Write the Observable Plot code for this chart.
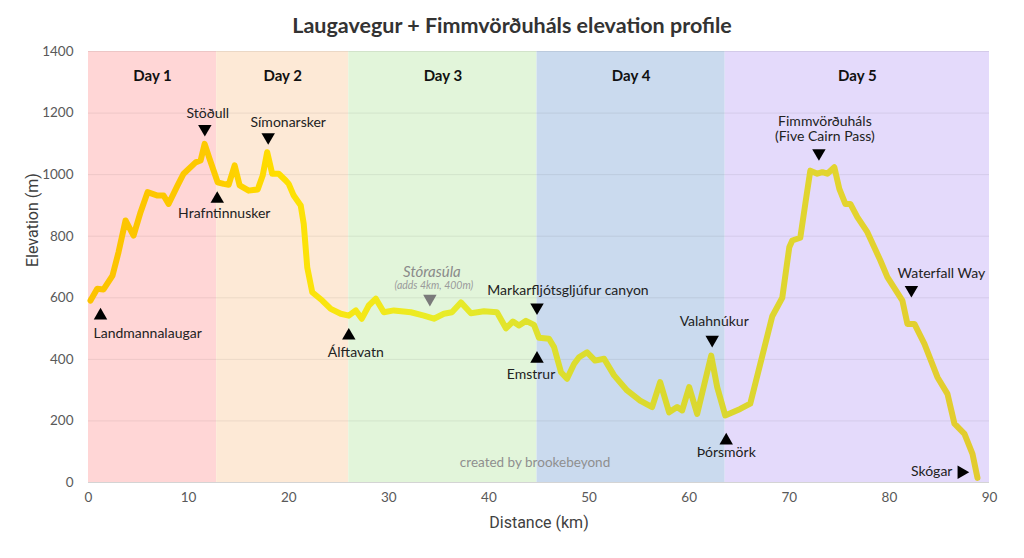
<!DOCTYPE html>
<html>
<head>
<meta charset="utf-8">
<script src="https://cdn.jsdelivr.net/npm/d3@7"></script>
<script src="https://cdn.jsdelivr.net/npm/@observablehq/plot@0.6"></script>
<style>
  body { margin: 0; background: #fff; }
  #title {
    font: bold 21.5px Lato, "Open Sans", sans-serif; color: #333;
    height: 44px; line-height: 50px; text-align: center;
  }
</style>
</head>
<body>
<div id="title">Laugavegur + Fimmvörðuháls elevation profile</div>
<div id="chart"></div>
<script>
// Trail profile: distance along the route (km) and elevation (m)
const distanceKm = [
  0.2, 0.87, 1.5, 2.4, 3.0, 3.7, 4.5, 5.2, 5.9, 6.9, 7.5, 8.0, 8.9, 9.5, 10.7, 11.2, 11.6, 12.1, 12.9,
  13.5, 14.0, 14.6, 15.1, 16.0, 16.9, 17.4, 17.85, 18.35, 19.0, 19.7, 20.0, 20.5, 21.2, 21.5, 21.85,
  22.35, 23.35, 24.2, 25.2, 26.0, 26.7, 27.3, 28.0, 28.7, 29.5, 30.5, 32.2, 33.5, 34.5, 35.5, 36.3,
  37.2, 38.2, 39.5, 40.8, 41.7, 42.4, 43.0, 43.7, 44.5, 45.0, 46.0, 46.5, 47.2, 47.8, 48.5, 49.0,
  49.8, 50.6, 51.5, 52.5, 53.8, 55.1, 56.3, 57.1, 58.0, 58.8, 59.3, 60.0, 60.8, 62.2, 62.8, 63.6,
  65.1, 66.1, 67.1, 68.3, 69.3, 70.0, 70.3, 71.1, 71.6, 72.1, 72.8, 73.3, 73.8, 74.5, 75.0, 75.6,
  76.1, 76.8, 77.8, 79.1, 79.8, 81.3, 81.8, 82.5, 83.5, 84.8, 85.8, 86.5, 87.5, 88.3, 88.8
];
const elevationM = [
  591, 629, 627, 672, 748, 851, 802, 878, 943, 932, 932, 905, 965, 1003, 1040, 1046, 1100, 1051, 975,
  970, 967, 1030, 965, 948, 952, 997, 1073, 1003, 1003, 981, 970, 932, 900, 840, 699,
  618, 591, 564, 548, 542, 559, 532, 575, 597, 553, 559, 553, 542, 532, 548, 553,
  585, 550, 556, 553, 501, 523, 510, 525, 512, 470, 467, 440, 358, 337, 385, 407,
  423, 396, 402, 348, 299, 266, 245, 326, 228, 245, 234, 310, 223, 412, 310, 218,
  239, 256, 385, 540, 600, 764, 786, 795, 905, 1013, 1003, 1008, 1003, 1024, 954, 905,
  905, 862, 813, 721, 667, 591, 515, 515, 450, 342, 288, 191, 158, 93, 15
];

// Daily stages
const dayNames = ["Day 1", "Day 2", "Day 3", "Day 4", "Day 5"];
const dayStartKm = [0, 12.8, 26.0, 44.8, 63.6];
const dayEndKm = [12.8, 26.0, 44.8, 63.6, 90];
const dayColors = ["#ffd6d6", "#fde9d6", "#e2f5da", "#cadaee", "#e4dafb"];

// Axis ticks
const xTicks = [0, 10, 20, 30, 40, 50, 60, 70, 80, 90];
const yTicks = [0, 200, 400, 600, 800, 1000, 1200, 1400];

// Landmarks along the trail
const placeNames = ["Landmannalaugar", "Stöðull", "Hrafntinnusker", "Símonarsker", "Álftavatn",
  "Markarfljótsgljúfur canyon", "Emstrur", "Valahnúkur", "Þórsmörk",
  "Fimmvörðuháls\n(Five Cairn Pass)", "Waterfall Way", "Skógar"];
const placeKm = [1.2, 11.62, 12.86, 17.95, 26.0, 44.8, 44.8, 62.3, 63.7, 72.96, 82.2, 87.2];
const placeElev = [542, 1149, 921, 1122, 477, 569, 402, 464, 136, 1070, 626, 33];
const placePointer = ["up", "down", "up", "down", "up", "down", "up", "down", "up", "down", "down", "right"];

// Optional side trip
const detourName = "Stórasúla";
const detourNote = "(adds 4km, 400m)";
const detourKm = 34.1;
const detourElev = 597;

const profile = distanceKm.map((km, i) => ({km, elev: elevationM[i]}));
const dayBands = dayNames.map((name, i) => ({name, start: dayStartKm[i], end: dayEndKm[i]}));
const places = placeNames.map((name, i) => ({name, km: placeKm[i], elev: placeElev[i], pointer: placePointer[i]}));

// Label placement around each marker: [dx, dy, textAnchor]
const labelNudge = {
  "Landmannalaugar": [-7, 18, "start"],
  "Stöðull": [3, -16, "middle"],
  "Hrafntinnusker": [7, 14, "middle"],
  "Símonarsker": [20, -15, "middle"],
  "Álftavatn": [7, 17, "middle"],
  "Markarfljótsgljúfur canyon": [31, -17, "middle"],
  "Emstrur": [-6, 15, "middle"],
  "Valahnúkur": [2, -18, "middle"],
  "Þórsmörk": [0, 12, "middle"],
  "Fimmvörðuháls\n(Five Cairn Pass)": [6, -24, "middle"],
  "Waterfall Way": [30, -17, "middle"],
  "Skógar": [-9, -1, "end"]
};

const labelFont = "Lato, 'Open Sans', sans-serif";
const rotation = {up: 0, down: 180, right: 90};

const placeLabels = places.map(p => {
  const [dx, dy, textAnchor] = labelNudge[p.name];
  return Plot.text([p], {
    x: "km", y: "elev", text: "name", dx, dy, textAnchor,
    fontSize: 14, fill: "#222", fontFamily: labelFont, lineHeight: 1.08
  });
});

const chart = Plot.plot({
  width: 1024,
  height: 514,
  marginLeft: 88,
  marginRight: 35,
  marginTop: 7,
  marginBottom: 76,
  style: {fontFamily: labelFont, fontSize: "13.5px", color: "#595959", background: "transparent", overflow: "visible"},
  x: {domain: [0, 90], ticks: xTicks, tickSize: 0, tickPadding: 10, label: null},
  y: {domain: [0, 1400], ticks: yTicks, tickSize: 0, tickPadding: 15, label: null, tickFormat: d => String(d)},
  color: {domain: dayNames, range: dayColors},
  marks: [
    Plot.rect(dayBands, {x1: "start", x2: "end", y1: 0, y2: 1400, fill: "name"}),
    Plot.ruleY(yTicks, {stroke: "#000", strokeOpacity: 0.07}),
    Plot.ruleY([0], {stroke: "#000", strokeOpacity: 0.1}),
    Plot.text(dayBands, {x: d => (d.start + d.end) / 2, frameAnchor: "top", dy: 19, text: "name",
      fontSize: 15, fontWeight: "bold", fill: "#111", fontFamily: labelFont}),
    Plot.line(profile, {x: "km", y: "elev", stroke: "url(#trailGradient)", strokeWidth: 6,
      strokeLinejoin: "round", strokeLinecap: "round"}),
    Plot.dot(places, {x: "km", y: "elev", symbol: "triangle", r: 5, fill: "#000", stroke: null,
      rotate: d => rotation[d.pointer]}),
    ...placeLabels,
    Plot.dot([{km: detourKm, elev: detourElev}], {x: "km", y: "elev", symbol: "triangle", r: 5,
      fill: "#7a7a7a", stroke: null, rotate: 180}),
    Plot.text([{km: detourKm, elev: detourElev}], {x: "km", y: "elev", text: () => detourName,
      dx: 2, dy: -27, fontSize: 15, fontStyle: "italic", fill: "#8a8a8a", fontFamily: labelFont}),
    Plot.text([{km: detourKm, elev: detourElev}], {x: "km", y: "elev", text: () => detourNote,
      dx: 4, dy: -13, fontSize: 10.5, fontStyle: "italic", fill: "#9a9a9a", fontFamily: labelFont}),
    Plot.text(["created by brookebeyond"], {frameAnchor: "bottom", dx: -4, dy: -16, text: d => d,
      fontSize: 13.5, fill: "#8f8f8f", fontFamily: labelFont}),
    Plot.text(["Distance (km)"], {frameAnchor: "bottom", dy: 45, text: d => d,
      fontSize: 16, fill: "#404040", fontFamily: "Roboto, sans-serif"}),
    Plot.text(["Elevation (m)"], {frameAnchor: "left", dx: -56, rotate: -90, text: d => d,
      fontSize: 16, fill: "#404040", fontFamily: "Roboto, sans-serif"})
  ]
});

// Colour ramp along the trail, from orange-yellow to mustard
const xScale = chart.scale("x");
const gradStops = [
  [0, "#fcc300"], [12, "#fdca00"], [19, "#ffdf00"], [25, "#f8e612"],
  [35, "#e9ec28"], [48, "#dcdd2e"], [63, "#dad72f"], [75, "#e3d42f"], [90, "#e2cb2f"]
];
const defs = d3.select(chart).insert("defs", ":first-child");
const grad = defs.append("linearGradient")
  .attr("id", "trailGradient")
  .attr("gradientUnits", "userSpaceOnUse")
  .attr("x1", xScale.apply(0)).attr("x2", xScale.apply(90))
  .attr("y1", 0).attr("y2", 0);
gradStops.forEach(([km, c]) => grad.append("stop").attr("offset", km / 90).attr("stop-color", c));

document.getElementById("chart").appendChild(chart);
</script>
</body>
</html>
